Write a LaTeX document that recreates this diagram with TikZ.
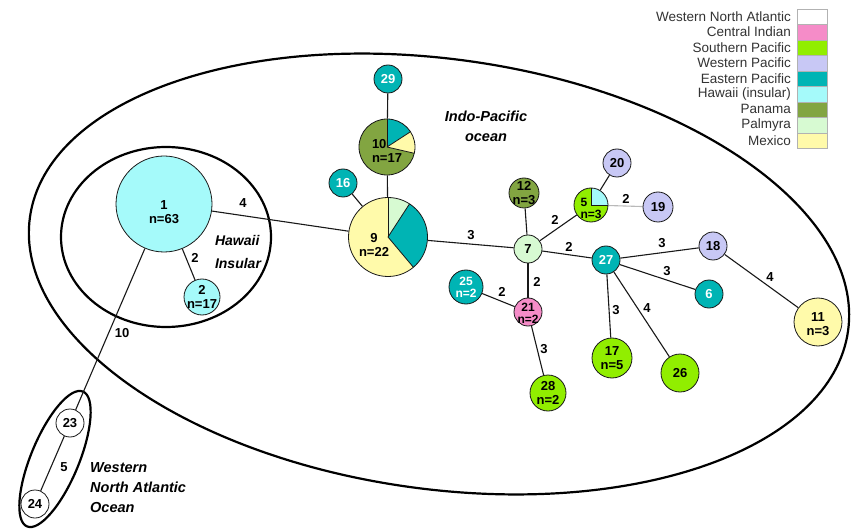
\documentclass[tikz,border=0pt]{standalone}
\usepackage{fontspec}
\setmainfont{Liberation Sans}
\usetikzlibrary{backgrounds}
\definecolor{cWNA}{RGB}{255,255,255}
\definecolor{cCI}{RGB}{245,140,200}
\definecolor{cSP}{RGB}{145,238,0}
\definecolor{cWP}{RGB}{200,200,245}
\definecolor{cEP}{RGB}{0,180,180}
\definecolor{cHI}{RGB}{165,250,250}
\definecolor{cPA}{RGB}{130,165,65}
\definecolor{cPL}{RGB}{215,250,210}
\definecolor{cMX}{RGB}{255,250,170}
\definecolor{ink}{RGB}{25,25,25}
\newcommand\myslice[5]{\fill[#5] (#1) -- +(#2:#4) arc[start angle=#2, end angle=#3, radius=#4] -- cycle;}
\newcommand\myradial[3]{\draw[ink, line width=0.8pt] (#1) -- +(#2:#3);}
\tikzset{
  hap/.style={circle, draw=ink, line width=0.8pt, inner sep=0pt, minimum size=#1},
  ntxt/.style={font=\bfseries\fontsize{13}{14}\selectfont, align=center, inner sep=0pt},
  stxt/.style={font=\bfseries\fontsize{12}{12}\selectfont, align=center, inner sep=0pt},
  link/.style={draw=ink, line width=1.1pt},
  elab/.style={font=\bfseries\fontsize{13}{13}\selectfont, inner sep=0pt},
  region/.style={draw=black, line width=2.2pt},
  rlab/.style={font=\bfseries\itshape\fontsize{14.5}{20}\selectfont, inner sep=0pt},
  legtxt/.style={font=\fontsize{13.5}{14}\selectfont, text=black!80, inner sep=0pt},
  legbox/.style={rectangle, draw=gray!60, line width=0.6pt, minimum width=30pt, minimum height=15.45pt, inner sep=0pt},
}
\begin{document}
\begin{tikzpicture}[x=1pt,y=1pt]
\useasboundingbox (0,0) rectangle (856,-529);

% pie centres
\coordinate (c9) at (388,-237);
\coordinate (c10) at (387,-147);
\coordinate (c5) at (591,-205);

% pie 9
\myslice{c9}{90}{310}{39.5}{cMX}
\myslice{c9}{57}{90}{39.5}{cPL}
\myslice{c9}{-50}{57}{39.5}{cEP}
\myradial{c9}{90}{39.5}
\myradial{c9}{57}{39.5}
\myradial{c9}{-50}{39.5}
% pie 10
\myslice{c10}{90}{347}{28}{cPA}
\myslice{c10}{33}{90}{28}{cEP}
\myslice{c10}{-13}{33}{28}{cMX}
\myradial{c10}{90}{28}
\myradial{c10}{33}{28}
\myradial{c10}{-13}{28}
% pie 5
\myslice{c5}{90}{360}{17}{cSP}
\myslice{c5}{0}{90}{17}{cHI}
\myradial{c5}{90}{17}
\myradial{c5}{0}{17}

% haplotype nodes
\node[hap=96pt, fill=cHI, label={[ntxt, yshift=-8pt]center:{1\\n=63}}] (n1) at (164,-204) {};
\node[hap=36pt, fill=cHI, label={[ntxt]center:{2\\n=17}}] (n2) at (202,-297) {};
\node[hap=79pt, label={[ntxt, xshift=-14pt, yshift=-8pt]center:{9\\n=22}}] (n9) at (c9) {};
\node[hap=56pt, label={[ntxt, align=left, yshift=-4pt]center:{10\\n=17}}] (n10) at (c10) {};
\node[hap=28pt, fill=cEP, label={[ntxt, white]center:{29}}] (n29) at (388,-79) {};
\node[hap=28pt, fill=cEP, label={[ntxt, white]center:{16}}] (n16) at (343,-183) {};
\node[hap=28pt, fill=cPL, label={[ntxt]center:{7}}] (n7) at (528,-249) {};
\node[hap=30pt, fill=cPA, label={[ntxt]center:{12\\n=3}}] (n12) at (524,-193) {};
\node[hap=34pt, label={[stxt, align=left, yshift=-3pt]center:{5\\n=3}}] (n5) at (c5) {};
\node[hap=28pt, fill=cWP, label={[ntxt]center:{20}}] (n20) at (617,-163) {};
\node[hap=30pt, fill=cWP, label={[ntxt]center:{19}}] (n19) at (658,-207) {};
\node[hap=28pt, fill=cEP, label={[ntxt, white]center:{27}}] (n27) at (606,-260) {};
\node[hap=28pt, fill=cWP, label={[ntxt]center:{18}}] (n18) at (713,-246) {};
\node[hap=28pt, fill=cEP, label={[ntxt, white]center:{6}}] (n6) at (709,-294) {};
\node[hap=48pt, fill=cMX, label={[ntxt, yshift=-2pt]center:{11\\n=3}}] (n11) at (818,-322) {};
\node[hap=34pt, fill=cEP, label={[stxt, white]center:{25\\n=2}}] (n25) at (466,-287) {};
\node[hap=28pt, fill=cCI, label={[stxt, yshift=-1pt]center:{21\\n=2}}] (n21) at (528,-312) {};
\node[hap=36pt, fill=cSP, label={[ntxt]center:{28\\n=2}}] (n28) at (548,-393) {};
\node[hap=40pt, fill=cSP, label={[ntxt]center:{17\\n=5}}] (n17) at (612,-358) {};
\node[hap=38pt, fill=cSP, label={[ntxt]center:{26}}] (n26) at (680,-373) {};
\node[hap=28pt, fill=cWNA, label={[ntxt]center:{23}}] (n23) at (70,-423) {};
\node[hap=28pt, fill=cWNA, label={[ntxt]center:{24}}] (n24) at (35,-504) {};

% edge labels
\node[elab] (l12) at (195,-258) {2};
\node[elab] (l19) at (243,-203) {4};
\node[elab] (l123) at (122,-333) {10};
\node[elab] (l2324) at (64,-467) {5};
\node[elab] (l97) at (471,-235) {3};
\node[elab] (l75) at (555,-220) {2};
\node[elab] (l727) at (569,-247) {2};
\node[elab] (l721) at (537,-282) {2};
\node[elab] (l2521) at (502,-292) {2};
\node[elab] (l519) at (626,-199) {2};
\node[elab] (l2718) at (662,-243) {3};
\node[elab] (l276) at (667,-271) {3};
\node[elab] (l2128) at (544,-349) {3};
\node[elab] (l2717) at (616,-310) {3};
\node[elab] (l2726) at (647,-308) {4};
\node[elab] (l1811) at (770,-277) {4};

% region labels
\node[rlab, align=center] (tIP) at (486,-126) {Indo-Pacific\\ocean};
\node[rlab, align=left, font=\bfseries\itshape\fontsize{14}{23}\selectfont] (tHI) at (238,-252) {Hawaii\\Insular};
\node[rlab, align=left, anchor=west] (tWNA) at (90,-488) {Western\\North Atlantic\\Ocean};

% legend
\foreach \lab/\col [count=\i from 0] in {Western North Atlantic/cWNA, Central Indian/cCI, Southern Pacific/cSP, Western Pacific/cWP, Eastern Pacific/cEP, Hawaii (insular)/cHI, Panama/cPA, Palmyra/cPL, Mexico/cMX} {
  \node[legtxt, anchor=east] (lt\i) at (791, {-16.7-15.45*\i}) {\lab};
  \node[legbox, fill=\col, anchor=north west] (lb\i) at (797, {-9-15.45*\i}) {};
}

\begin{pgfonlayer}{background}
\fill[white] (0,0) rectangle (856,-529);
\draw[region, rotate around={-7.9:(439,-274)}] (439,-274) ellipse[x radius=413, y radius=215];
\draw[region] (166,-237) ellipse[x radius=105, y radius=90];
\draw[region, rotate around={67.5:(55,-459)}] (55,-459) ellipse[x radius=73, y radius=24];
\draw[link] (n1) -- (n2);
\draw[link] (n1) -- (n9);
\draw[link] (n1) -- (n23);
\draw[link] (n23) -- (n24);
\draw[link] (n29) -- (n10);
\draw[link] (n10) -- (n9);
\draw[link] (n16) -- (n9);
\draw[link] (n9) -- (n7);
\draw[link] (n12) -- (n7);
\draw[link] (n7) -- (n5);
\draw[link] (n5) -- (n20);
\draw[link, draw=gray!55] (n5) -- (n19);
\draw[link] (n7) -- (n27);
\draw[link] (n7) -- (n21);
\draw[link] (n25) -- (n21);
\draw[link] (n21) -- (n28);
\draw[link] (n27) -- (n18);
\draw[link] (n27) -- (n6);
\draw[link] (n27) -- (n17);
\draw[link] (n27) -- (n26);
\draw[link] (n18) -- (n11);
\end{pgfonlayer}
\end{tikzpicture}
\end{document}
